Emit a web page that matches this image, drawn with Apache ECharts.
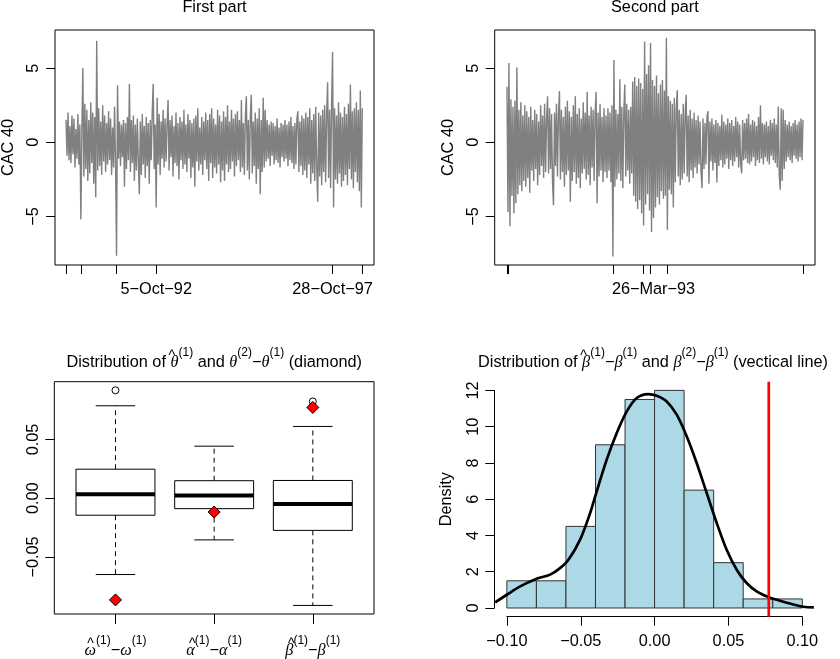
<!DOCTYPE html>
<html><head><meta charset="utf-8">
<script src="https://cdn.jsdelivr.net/npm/echarts@6/dist/echarts.min.js"></script>
<style>html,body{margin:0;padding:0;background:#fff}#c{width:840px;height:659px}</style>
</head><body><div id="c"></div>
<script>
// ---------- DATA ----------
// CAC 40 daily returns, first part (one value per ~1px column)
const firstPartReturns = [
 1.5,-0.9,2.0,-1.2,1.1,-1.4,1.8,-0.8,1.6,-1.7,0.9,-1.1,1.9,-1.5,1.2,-5.2,0.6,5.0,-2.3,2.6,
 -1.8,2.2,-2.6,1.5,-2.1,2.7,-1.4,2.0,-2.8,1.7,-3.7,6.85,-1.9,2.3,-1.6,1.4,-2.2,2.5,-1.3,1.8,
 -2.0,1.3,-1.5,2.1,-1.2,1.6,-2.2,1.0,-1.7,2.4,-1.4,-7.65,3.85,-1.1,1.4,-1.6,1.2,-1.0,1.5,-3.0,
 1.3,-1.8,1.7,-1.2,3.95,-2.0,1.5,-1.4,1.8,-2.6,1.2,-1.9,1.6,-1.3,-3.5,1.4,-2.2,1.9,-1.5,1.1,
 -2.4,1.7,-1.6,1.3,-2.8,1.5,-1.2,2.0,3.95,-1.8,1.2,-4.4,3.0,-1.5,1.9,-2.2,1.4,-1.1,2.2,-1.7,
 1.6,-1.3,1.2,2.85,-1.9,1.5,-1.0,1.8,-2.3,1.1,-1.4,2.0,-1.6,1.3,-2.5,1.7,-1.2,1.4,-1.8,2.2,
 -1.5,1.2,-2.0,1.9,-1.1,1.5,-2.4,1.3,-1.7,1.6,-3.0,1.8,-1.3,2.3,-1.9,1.0,-1.5,1.7,-2.2,1.4,
 -1.2,2.0,-1.8,1.5,-2.6,1.9,-1.4,2.3,-2.4,1.6,-1.7,1.2,-2.1,2.2,-1.5,1.8,-2.7,1.4,-1.9,2.1,
 -2.6,1.7,-1.5,2.5,-2.0,1.4,-1.8,2.2,-1.3,1.6,-2.3,1.9,-1.6,2.1,-1.2,1.5,-2.0,2.85,-1.7,1.3,
 -2.2,1.8,3.1,-1.9,1.5,-2.5,1.7,3.2,-2.1,1.4,-1.6,2.0,-2.8,1.6,-1.8,2.3,-3.5,1.5,-2.0,3.0,
 -1.7,2.2,-1.3,1.5,-1.1,1.2,-1.6,1.4,-0.9,1.3,-1.5,1.1,-1.2,1.6,-1.4,1.0,-1.7,1.3,-1.0,1.2,
 -1.3,1.5,-1.1,1.2,-1.6,1.4,-1.2,1.7,-1.4,1.1,-1.8,1.3,-1.5,1.6,2.1,-2.0,1.4,-1.6,1.8,-2.2,
 1.6,-1.9,2.0,-2.4,1.7,-1.5,2.3,-2.8,1.5,-2.1,1.9,-2.6,2.4,-1.8,-4.0,2.0,-2.3,1.8,-2.9,2.2,
 -2.0,2.5,-2.7,1.9,4.05,-2.4,2.2,-3.1,2.6,6.1,-4.4,2.3,-2.5,1.8,-2.8,2.7,-2.1,2.0,-3.0,1.7,
 -2.6,2.4,-2.2,1.9,-2.9,2.6,-1.8,3.9,-2.5,2.1,-3.1,2.3,-2.0,2.7,-2.7,2.2,-3.3,3.5,-4.4,2.3
];
const secondPartReturns = [
 3.75,-4.7,5.35,-5.65,2.9,-3.6,2.4,-4.8,2.8,-4.1,5.05,-3.5,2.2,-2.9,2.7,-3.3,1.8,-2.6,2.5,-3.0,
 2.1,-2.4,1.7,-3.4,2.4,-1.9,1.5,-2.6,2.2,-1.8,1.9,-2.9,1.4,-2.2,2.5,-1.6,1.8,-2.4,2.6,-2.0,
 1.6,3.1,-2.1,2.3,-1.8,1.9,-2.7,-4.25,2.0,-1.6,2.6,-2.3,1.8,3.45,-2.5,2.2,-2.0,1.7,-3.0,2.4,
 -2.2,2.8,-1.9,2.1,-4.0,1.7,-2.6,2.5,-2.0,3.1,-2.8,1.9,-2.4,2.3,-3.1,1.6,-2.1,2.7,-1.8,2.0,
 -2.5,3.4,-2.2,1.8,-2.9,2.4,-1.7,2.2,-2.6,1.9,3.4,-4.1,2.0,-2.3,2.6,-1.9,1.7,-2.7,2.3,-2.0,
 1.8,-2.4,2.3,-1.9,2.0,-2.7,2.5,-7.7,5.55,-3.0,2.2,-2.5,1.9,-2.1,4.25,-2.6,2.4,-3.1,2.0,3.9,
 -2.3,2.6,-1.9,2.2,-2.8,2.4,-2.1,4.1,-3.6,4.4,-4.0,3.8,-4.5,4.3,-3.9,4.0,-4.8,3.6,-5.6,6.8,
 -4.2,4.6,-3.5,5.2,-4.6,6.7,-6.05,4.2,-5.1,3.8,-4.4,4.5,-3.7,3.3,-4.2,3.9,-3.3,4.2,-3.8,3.5,
 -3.6,7.05,-5.9,3.1,-3.2,2.8,-3.5,2.6,-4.4,3.0,-2.7,2.4,3.5,-2.3,2.2,-2.9,1.9,-2.5,2.6,-2.1,
 2.0,3.2,-2.3,1.8,-2.7,2.2,-1.9,1.6,-2.4,2.0,-1.7,1.5,-2.1,1.8,-1.5,1.4,-2.0,-3.1,1.6,-1.8,
 1.3,-1.5,1.7,2.1,-2.8,1.4,-1.3,1.6,-1.9,1.2,-1.4,1.5,-2.7,1.3,-1.6,1.1,-1.2,1.85,-1.7,1.4,
 -1.5,1.2,-1.1,1.6,-1.8,1.3,-1.2,1.5,-1.6,1.1,-1.3,1.7,-1.0,1.4,-1.7,1.2,-1.4,-2.1,1.5,-1.2,
 1.3,-1.1,1.6,-1.4,1.9,-1.5,1.2,-1.3,1.5,-1.0,1.4,-1.6,1.1,-1.2,1.7,-1.4,2.5,-1.1,1.3,-1.5,
 1.2,-1.0,1.4,-1.3,1.1,-1.5,1.5,-0.9,1.3,-1.2,1.6,-1.4,1.2,-1.7,2.4,-2.2,-3.2,2.3,-2.6,2.2,
 -1.8,1.5,-1.3,1.2,-1.0,1.4,-1.2,1.1,-1.4,1.3,-0.9,1.5,-1.1,1.2,-1.3,1.4,-1.0,1.6,-1.2,1.5
];
const part1TickIdx = [0, 15, 51, 91, 269, 299];
const part1LabelIdx = [91, 269];
const part1Labels = ['5\u2212Oct\u221292', '28\u2212Oct\u221297'];
const part2TickIdx = [0, 1, 107, 138, 145, 162, 299];
const part2LabelIdx = [148];
const part2Labels = ['26\u2212Mar\u221293'];
const returnTicks = [-5, 0, 5];

// boxplots
const boxGroups = [1, 2, 3];
const boxLabels = [
  '{hat|\u2009^}{g|\u03c9}{s|(1)}{m|\u2212}{g|\u03c9}{s|(1)}',
  '{hat|\u2009^}{g|\u03b1}{s|(1)}{m|\u2212}{g|\u03b1}{s|(1)}',
  '{hat|\u2009^}{g|\u03b2}{s|(1)}{m|\u2212}{g|\u03b2}{s|(1)}'
];
const boxLowerWhisker = [-0.065, -0.0355, -0.0913];
const boxQ1 = [-0.0145, -0.0089, -0.0274];
const boxMedian = [0.0034, 0.0023, -0.0050];
const boxQ3 = [0.0247, 0.0149, 0.0151];
const boxUpperWhisker = [0.0787, 0.0443, 0.0611];
const boxOutliers = [[1, 0.0919], [3, 0.0824]];
const diamondValues = [-0.0866, -0.0118, 0.0773];
const boxTicks = [-0.05, 0, 0.05];

// histogram
const histBreaks = [-0.10, -0.08, -0.06, -0.04, -0.02, 0.00, 0.02, 0.04, 0.06, 0.08, 0.10];
const histDensity = [1.5, 1.5, 4.5, 9.0, 11.5, 12.0, 6.5, 2.5, 0.5, 0.5];
const densityX = [-0.1079,-0.1,-0.091,-0.0802,-0.0707,-0.064,-0.0583,-0.0504,-0.0436,-0.0402,-0.0324,-0.0256,-0.0188,-0.0121,-0.0042,0.0015,0.0082,0.015,0.0218,0.0285,0.0353,0.0421,0.0488,0.0556,0.0623,0.0691,0.077,0.0849,0.0928,0.1007,0.1078];
const densityY = [0.31,0.73,1.19,1.6,1.84,2.2,2.66,3.77,5.24,6.16,8.18,9.65,10.84,11.58,11.8,11.7,11.39,10.66,9.46,8.0,6.34,4.68,3.21,2.11,1.38,0.92,0.61,0.40,0.22,0.07,0.03];
const betaDiff = 0.0773;
const histYExtent = [-0.48, 12.48];

// ---------- CHART ----------
const FONT = '"Liberation Sans", Arial, Helvetica, sans-serif';
const SERIF = '"Liberation Serif", "DejaVu Serif", serif';
const FS = 16.3;
function fmtNum(v, d) { if (Math.abs(v) < 1e-9) v = 0; return (v < 0 ? '\u2212' : '') + Math.abs(v).toFixed(d); }
const lab = {color: '#000', fontSize: FS, fontFamily: FONT};
const tickLine = {color: '#000', width: 1};
const mathRich = {
  n: {fontSize: FS, fontFamily: FONT, color: '#000', verticalAlign: 'bottom'},
  g: {fontSize: FS, fontFamily: SERIF, fontStyle: 'italic', color: '#000', verticalAlign: 'bottom'},
  hat: {fontSize: 14, fontFamily: FONT, color: '#000', verticalAlign: 'bottom', align: 'left', width: 0.001, padding: [0, 0, 8, 0]},
  m: {fontSize: FS, fontFamily: FONT, color: '#000', verticalAlign: 'bottom'},
  s: {fontSize: 12, fontFamily: FONT, color: '#000', verticalAlign: 'bottom', padding: [0, 0, 12, 0]}
};
function hidden(k, min, max) { return {gridIndex: k, type: 'value', show: false, min: min, max: max, splitLine: {show: false}}; }

function renderBox(params, api) {
  const x = api.value(0);
  const pLw = api.coord([x, api.value(1)]);
  const pQ1 = api.coord([x, api.value(2)]);
  const pMed = api.coord([x, api.value(3)]);
  const pQ3 = api.coord([x, api.value(4)]);
  const pUw = api.coord([x, api.value(5)]);
  const half = api.size([0.8, 0])[0] / 2;
  const cap = half / 2;
  const cx = pMed[0];
  const dash = {stroke: '#000', lineWidth: 1, lineDash: [5, 4]};
  const solid = {stroke: '#000', lineWidth: 1};
  return {type: 'group', children: [
    {type: 'line', shape: {x1: cx, y1: pQ3[1], x2: cx, y2: pUw[1]}, style: dash},
    {type: 'line', shape: {x1: cx, y1: pQ1[1], x2: cx, y2: pLw[1]}, style: dash},
    {type: 'line', shape: {x1: cx - cap, y1: pUw[1], x2: cx + cap, y2: pUw[1]}, style: solid},
    {type: 'line', shape: {x1: cx - cap, y1: pLw[1], x2: cx + cap, y2: pLw[1]}, style: solid},
    {type: 'rect', shape: {x: cx - half, y: pQ3[1], width: 2 * half, height: pQ1[1] - pQ3[1]}, style: {fill: '#fff', stroke: '#000', lineWidth: 1}},
    {type: 'line', shape: {x1: cx - half, y1: pMed[1], x2: cx + half, y2: pMed[1]}, style: {stroke: '#000', lineWidth: 4}}
  ]};
}
function renderBar(params, api) {
  const p0 = api.coord([api.value(0), api.value(2)]);
  const p1 = api.coord([api.value(1), 0]);
  return {type: 'rect', shape: {x: p0[0], y: p0[1], width: p1[0] - p0[0], height: p1[1] - p0[1]},
          style: {fill: '#ADD8E6', stroke: '#333', lineWidth: 1}};
}

const chart = echarts.init(document.getElementById('c'), null, {renderer: 'canvas'});
chart.setOption({
  animation: false,
  backgroundColor: '#fff',
  title: [
    {text: 'First part', left: 214.5, top: 0, textAlign: 'center', padding: 0, textStyle: {fontWeight: 'normal', ...lab}},
    {text: 'Second part', left: 654.9, top: 0, textAlign: 'center', padding: 0, textStyle: {fontWeight: 'normal', ...lab}},
    {text: '{n|Distribution of }{hat|\u2009^}{g|\u03b8}{s|(1)}{n| and }{g|\u03b8}{s|(2)}{m|\u2212}{g|\u03b8}{s|(1)}{n| (diamond)}',
     left: 214.2, top: 347, textAlign: 'center', padding: 0, textStyle: {fontWeight: 'normal', ...lab, rich: mathRich}},
    {text: '{n|Distribution of }{hat|\u2009^}{g|\u03b2}{s|(1)}{m|\u2212}{g|\u03b2}{s|(1)}{n| and }{g|\u03b2}{s|(2)}{m|\u2212}{g|\u03b2}{s|(1)}{n| (vectical line)}',
     left: 653, top: 347, textAlign: 'center', padding: 0, textStyle: {fontWeight: 'normal', ...lab, rich: mathRich}}
  ],
  grid: [
    {left: 54.5, top: 30, width: 319.5, height: 235, show: true, borderColor: '#000', borderWidth: 1, backgroundColor: 'transparent'},
    {left: 494.7, top: 30, width: 320.3, height: 235, show: true, borderColor: '#000', borderWidth: 1, backgroundColor: 'transparent'},
    {left: 54.3, top: 381.7, width: 319.7, height: 235.6, show: true, borderColor: '#000', borderWidth: 1, backgroundColor: 'transparent'},
    {left: 494.3, top: 381.7, width: 320.7, height: 235},
    {left: 494.3, top: 390.4, width: 320.7, height: 217.6},
    {left: 506.9, top: 381.7, width: 295.4, height: 235}
  ],
  xAxis: [
    {gridIndex: 0, type: 'value', min: -11.1, max: 310.8, splitLine: {show: false},
     axisLine: {show: false, onZero: false},
     axisTick: {show: true, length: 9, customValues: part1TickIdx, lineStyle: tickLine},
     axisLabel: {customValues: part1LabelIdx, margin: 17, formatter: v => part1Labels[part1LabelIdx.indexOf(v)], ...lab}},
    {gridIndex: 1, type: 'value', min: -12.4, max: 311.1, splitLine: {show: false},
     axisLine: {show: false, onZero: false},
     axisTick: {show: true, length: 9, customValues: part2TickIdx, lineStyle: tickLine},
     axisLabel: {customValues: part2LabelIdx, margin: 17, formatter: v => part2Labels[part2LabelIdx.indexOf(v)], ...lab}},
    {gridIndex: 2, type: 'value', min: 0.38, max: 3.62, splitLine: {show: false},
     axisLine: {show: false, onZero: false},
     axisTick: {show: true, length: 10, customValues: boxGroups, lineStyle: tickLine},
     axisLabel: {customValues: boxGroups, margin: 21, formatter: v => boxLabels[boxGroups.indexOf(v)], ...lab, rich: mathRich}},
    hidden(3, -0.1085, 0.1086),
    hidden(4, -0.1085, 0.1086),
    {gridIndex: 5, type: 'value', min: -0.1, max: 0.1, interval: 0.05, splitLine: {show: false},
     axisLine: {show: true, onZero: false, lineStyle: tickLine},
     axisTick: {show: true, length: 9, lineStyle: tickLine},
     axisLabel: {margin: 17, formatter: v => fmtNum(v, 2), showMinLabel: true, showMaxLabel: true, ...lab}}
  ],
  yAxis: [
    {gridIndex: 0, type: 'value', min: -8.27, max: 7.57, splitLine: {show: false},
     axisLine: {show: false, onZero: false},
     axisTick: {show: true, length: 9, customValues: returnTicks, lineStyle: tickLine},
     axisLabel: {customValues: returnTicks, rotate: 90, margin: 13, formatter: v => fmtNum(v, 0), ...lab},
     name: 'CAC 40', nameLocation: 'middle', nameGap: 38, nameTextStyle: lab},
    {gridIndex: 1, type: 'value', min: -8.27, max: 7.57, splitLine: {show: false},
     axisLine: {show: false, onZero: false},
     axisTick: {show: true, length: 9, customValues: returnTicks, lineStyle: tickLine},
     axisLabel: {customValues: returnTicks, rotate: 90, margin: 13, formatter: v => fmtNum(v, 0), ...lab},
     name: 'CAC 40', nameLocation: 'middle', nameGap: 38, nameTextStyle: lab},
    {gridIndex: 2, type: 'value', min: -0.0986, max: 0.0992, splitLine: {show: false},
     axisLine: {show: false, onZero: false},
     axisTick: {show: true, length: 9, customValues: boxTicks, lineStyle: tickLine},
     axisLabel: {customValues: boxTicks, rotate: 90, margin: 13, formatter: v => fmtNum(v, 2), ...lab}},
    hidden(3, histYExtent[0], histYExtent[1]),
    {gridIndex: 4, type: 'value', min: 0, max: 12, interval: 2, splitLine: {show: false},
     axisLine: {show: true, onZero: false, lineStyle: tickLine},
     axisTick: {show: true, length: 9, lineStyle: tickLine},
     axisLabel: {rotate: 90, margin: 13, showMinLabel: true, showMaxLabel: true, formatter: v => fmtNum(v, 0), ...lab},
     name: 'Density', nameLocation: 'middle', nameGap: 39.5, nameTextStyle: lab},
    hidden(5, histYExtent[0], histYExtent[1])
  ],
  series: [
    {type: 'line', xAxisIndex: 0, yAxisIndex: 0, data: firstPartReturns.map((v, i) => [i, v]),
     symbol: 'none', silent: true, lineStyle: {color: '#808080', width: 1.4}},
    {type: 'line', xAxisIndex: 1, yAxisIndex: 1, data: secondPartReturns.map((v, i) => [i, v]),
     symbol: 'none', silent: true, lineStyle: {color: '#808080', width: 1.4}},
    {type: 'custom', xAxisIndex: 2, yAxisIndex: 2, renderItem: renderBox, silent: true,
     encode: {x: 0, y: [1, 2, 3, 4, 5]},
     data: boxGroups.map((g, i) => [g, boxLowerWhisker[i], boxQ1[i], boxMedian[i], boxQ3[i], boxUpperWhisker[i]])},
    {type: 'scatter', xAxisIndex: 2, yAxisIndex: 2, data: boxOutliers, symbol: 'circle', symbolSize: 7, silent: true,
     itemStyle: {color: '#fff', borderColor: '#000', borderWidth: 1, opacity: 1}},
    {type: 'scatter', xAxisIndex: 2, yAxisIndex: 2, data: boxGroups.map((g, i) => [g, diamondValues[i]]),
     symbol: 'diamond', symbolSize: 12, silent: true,
     itemStyle: {color: '#ff0000', borderColor: '#000', borderWidth: 1, opacity: 1}},
    {type: 'custom', xAxisIndex: 3, yAxisIndex: 3, renderItem: renderBar, silent: true,
     encode: {x: [0, 1], y: 2},
     data: histDensity.map((d, i) => [histBreaks[i], histBreaks[i + 1], d])},
    {type: 'line', xAxisIndex: 3, yAxisIndex: 3, data: densityX.map((x, i) => [x, densityY[i]]),
     symbol: 'none', smooth: 0.3, silent: true, lineStyle: {color: '#000', width: 2.7}},
    {type: 'line', xAxisIndex: 3, yAxisIndex: 3, data: histYExtent.map(y => [betaDiff, y]),
     symbol: 'none', silent: true, lineStyle: {color: '#ff0000', width: 2.7}}
  ]
});
</script></body></html>
